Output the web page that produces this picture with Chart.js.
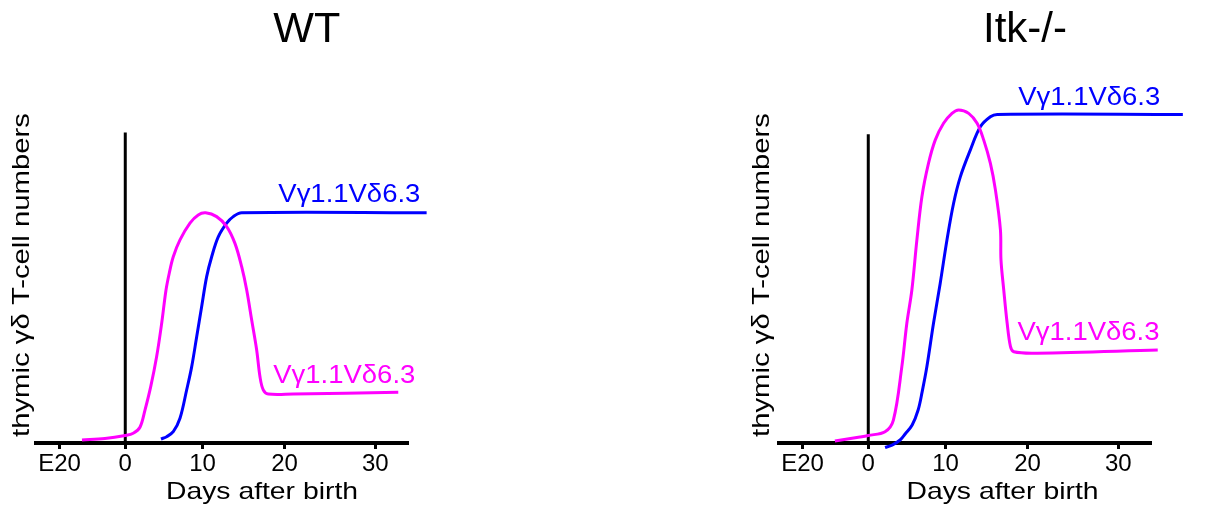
<!DOCTYPE html>
<html>
<head>
<meta charset="utf-8">
<script src="https://cdn.jsdelivr.net/npm/chart.js@4/dist/chart.umd.min.js"></script>
<style>
  html, body { margin: 0; padding: 0; background: #ffffff; }
  #wrap { position: relative; width: 1208px; height: 510px; overflow: hidden; background: #fff; }
  canvas { position: absolute; top: 0; }
  #cWT { left: 0; }
  #cItk { left: 604px; }
</style>
</head>
<body>
<div id="wrap">
  <canvas id="cWT" width="604" height="510"></canvas>
  <canvas id="cItk" width="604" height="510"></canvas>
</div>
<script>
// ---------- data (x in days after birth, y in relative cell numbers) ----------
const xTickValues = [-8.5, 0, 10, 20.6, 32.35];
const xTickLabels = ['E20', '0', '10', '20', '30'];
const panelTitles = ['WT', 'Itk-/-'];
const seriesLabel = 'V\u03b31.1V\u03b46.3';

// WT panel
const wtMagentaX = [-5.6, -2.63, 0, 1.03, 1.9, 2.55, 3.3, 4.06, 4.71, 5.27, 5.69, 6.21, 7.08, 8.37, 9.44, 10.4, 11.82, 13.12, 14.19, 15.06, 15.71, 16.35, 17.0, 17.43, 17.85, 18.5, 21.73, 35.32];
const wtMagentaY = [0.87, 1.31, 2.19, 2.83, 4.6, 9.6, 16.5, 25.2, 34.9, 44.6, 49.5, 54.3, 59.2, 64.1, 66.5, 67.1, 66.0, 63.1, 58.2, 51.4, 44.6, 35.9, 27.1, 19.3, 15.5, 14.3, 14.3, 14.8];
const wtBlueX = [4.62, 5.36, 6.21, 7.08, 7.94, 8.59, 9.24, 9.88, 10.53, 11.18, 12.03, 13.12, 13.97, 15.06, 38.99];
const wtBlueY = [1.17, 1.84, 3.29, 7.2, 15.45, 22.2, 31.0, 39.7, 48.5, 54.3, 60.1, 64.1, 66.0, 67.1, 67.1];
const wtBirthLineTop = 90.5;

// Itk-/- panel
const itkMagentaX = [-4.32, -1.08, 0, 2.17, 3.25, 4.34, 4.99, 5.64, 6.29, 6.94, 7.79, 8.66, 9.74, 10.83, 11.69, 12.99, 14.08, 14.94, 15.8, 16.45, 17.1, 17.17, 17.53, 17.97, 18.4, 18.83, 21.87, 37.45];
const itkMagentaY = [0.58, 1.75, 2.19, 3.3, 6.7, 22.2, 34.9, 44.6, 59.2, 71.8, 81.5, 88.3, 93.2, 96.1, 97.1, 96.1, 93.2, 88.3, 81.5, 73.8, 62.1, 53.4, 44.6, 34.9, 28.1, 26.6, 26.2, 27.1];
const itkBlueX = [2.17, 3.08, 4.12, 4.77, 5.68, 6.45, 6.97, 7.58, 8.44, 9.31, 10.18, 11.04, 11.91, 13.2, 14.5, 15.8, 16.68, 40.7];
const itkBlueY = [-1.3, -0.6, 0.87, 2.62, 5.25, 9.62, 14.9, 22.2, 34.9, 46.6, 59.2, 69.9, 77.6, 85.4, 92.2, 95.1, 95.8, 95.8];
const itkBirthLineTop = 90.0;

// label anchors (data coordinates: left edge x, baseline y)
const wtLabelAnchors = { blue: [19.8, 70.3], magenta: [19.15, 17.4] };
const itkLabelAnchors = { blue: [19.4, 98.5], magenta: [19.3, 30.0] };

// ---------- helpers ----------
const FONT = '"Liberation Sans", Arial, Helvetica, sans-serif';
const MAGENTA = '#ff00ff';
const BLUE = '#0000ff';

function pts(xs, ys) { return xs.map((x, i) => ({ x: x, y: ys[i] })); }

// draw text stretched horizontally to a target width
function stretchText(ctx, text, x, y, targetW, align) {
  const w = ctx.measureText(text).width;
  const sx = targetW / w;
  ctx.save();
  ctx.translate(x, y);
  ctx.scale(sx, 1);
  ctx.textAlign = align;
  ctx.fillText(text, 0, 0);
  ctx.restore();
}

function textPlugin(cfg) {
  return {
    id: 'panelText',
    afterDraw(chart) {
      const ctx = chart.ctx;
      const xs = chart.scales.x, ys = chart.scales.y;
      ctx.save();
      ctx.textBaseline = 'alphabetic';
      ctx.fillStyle = '#000';
      // title
      ctx.font = '42px ' + FONT;
      stretchText(ctx, cfg.title, cfg.titleX, 41.5, cfg.titleW, 'center');
      // x-axis title
      ctx.font = '24px ' + FONT;
      stretchText(ctx, 'Days after birth', cfg.xTitleX, 498.5, 192, 'center');
      // y-axis title (rotated)
      ctx.save();
      ctx.translate(cfg.yTitleX, 275);
      ctx.rotate(-Math.PI / 2);
      ctx.textBaseline = 'middle';
      ctx.font = '24px ' + FONT;
      stretchText(ctx, 'thymic \u03b3\u03b4 T-cell numbers', 0, 0, 324, 'center');
      ctx.restore();
      // series labels
      ctx.font = '26px ' + FONT;
      ctx.fillStyle = BLUE;
      stretchText(ctx, seriesLabel, xs.getPixelForValue(cfg.anchors.blue[0]), ys.getPixelForValue(cfg.anchors.blue[1]), 142, 'left');
      ctx.fillStyle = MAGENTA;
      stretchText(ctx, seriesLabel, xs.getPixelForValue(cfg.anchors.magenta[0]), ys.getPixelForValue(cfg.anchors.magenta[1]), 142, 'left');
      ctx.restore();
    }
  };
}

function makePanel(canvasId, d) {
  const ctx = document.getElementById(canvasId);
  return new Chart(ctx, {
    type: 'line',
    data: {
      datasets: [
        { label: 'magenta', data: pts(d.mx, d.my), borderColor: MAGENTA, borderWidth: 3, pointRadius: 0, tension: 0.35, clip: false, fill: false },
        { label: 'blue', data: pts(d.bx, d.by), borderColor: BLUE, borderWidth: 3, pointRadius: 0, tension: 0.35, clip: false, fill: false },
        { label: 'birth', data: [{ x: 0, y: 0 }, { x: 0, y: d.lineTop }], borderColor: '#000', borderWidth: 3, pointRadius: 0, tension: 0, clip: false, fill: false }
      ]
    },
    options: {
      responsive: false,
      animation: false,
      events: [],
      layout: { padding: { top: 100, bottom: 0, left: d.padL, right: d.padR } },
      plugins: { legend: { display: false }, title: { display: false }, tooltip: { enabled: false } },
      scales: {
        x: {
          type: 'linear',
          min: -11.55,
          max: 36.45,
          afterBuildTicks: (scale) => { scale.ticks = xTickValues.map(v => ({ value: v })); },
          afterFit: (scale) => { scale.height = 67; },
          ticks: {
            autoSkip: false, maxRotation: 0, minRotation: 0, padding: 1,
            color: '#000', font: { family: FONT, size: 24 },
            callback: (value, index) => xTickLabels[index]
          },
          grid: { display: true, drawOnChartArea: false, drawTicks: true, tickLength: 6, color: '#000', lineWidth: 3 },
          border: { display: true, color: '#000', width: 4 }
        },
        y: { type: 'linear', display: false, min: 0, max: 100 }
      }
    },
    plugins: [textPlugin(d.text)]
  });
}

makePanel('cWT', {
  mx: wtMagentaX, my: wtMagentaY, bx: wtBlueX, by: wtBlueY, lineTop: wtBirthLineTop,
  padL: 36, padR: 197,
  text: { title: panelTitles[0], titleX: 306.7, titleW: 67, xTitleX: 262, yTitleX: 22.5, anchors: wtLabelAnchors }
});
makePanel('cItk', {
  mx: itkMagentaX, my: itkMagentaY, bx: itkBlueX, by: itkBlueY, lineTop: itkBirthLineTop,
  padL: 175, padR: 58,
  text: { title: panelTitles[1], titleX: 421, titleW: 84, xTitleX: 398.5, yTitleX: 158, anchors: itkLabelAnchors }
});
</script>
</body>
</html>
